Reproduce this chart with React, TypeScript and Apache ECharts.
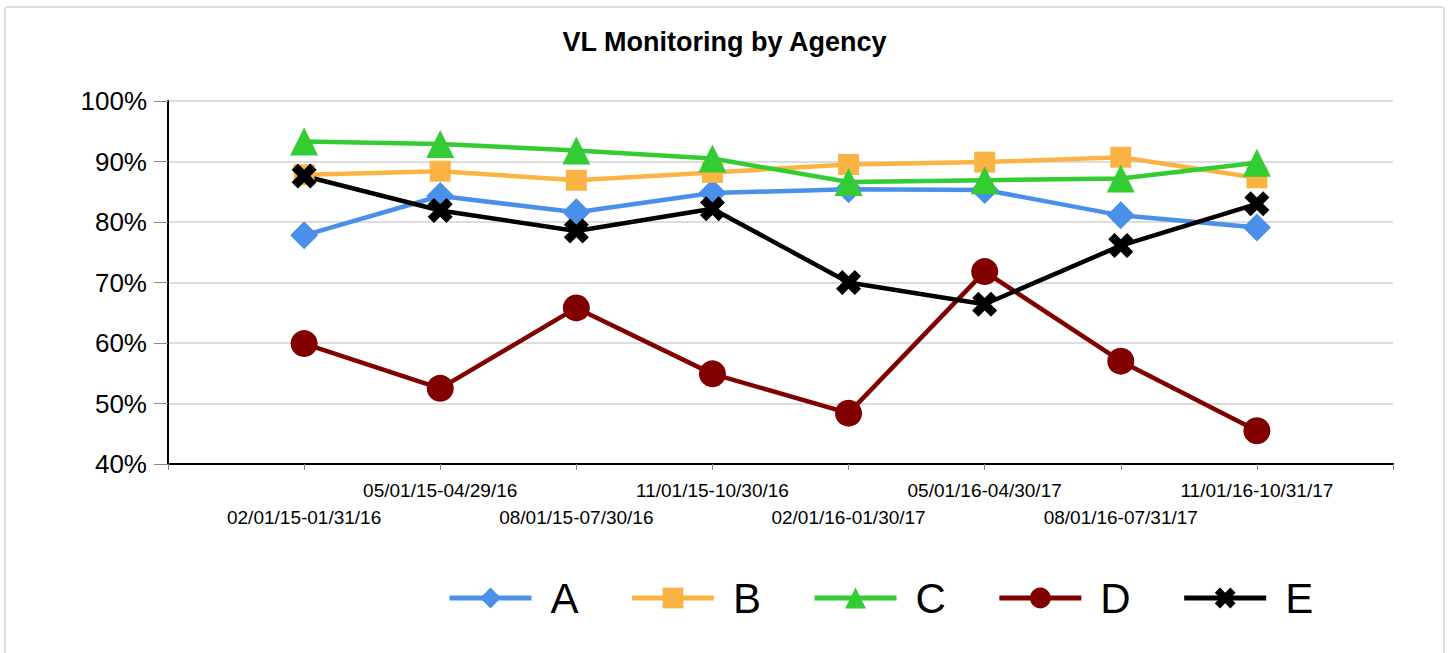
import React, { useEffect, useRef } from "react";
import * as echarts from "echarts";

const categories = [
  "02/01/15-01/31/16",
  "05/01/15-04/29/16",
  "08/01/15-07/30/16",
  "11/01/15-10/30/16",
  "02/01/16-01/30/17",
  "05/01/16-04/30/17",
  "08/01/16-07/31/17",
  "11/01/16-10/31/17",
];

const seriesNames = ["A", "B", "C", "D", "E"];
const valuesA = [77.8, 84.3, 81.6, 84.8, 85.4, 85.3, 81.1, 79.1];
const valuesB = [87.8, 88.4, 86.9, 88.2, 89.5, 89.9, 90.7, 87.3];
const valuesC = [93.3, 92.9, 91.8, 90.5, 86.6, 86.9, 87.2, 89.8];
const valuesD = [59.9, 52.5, 65.8, 54.9, 48.4, 71.8, 57.0, 45.5];
const valuesE = [87.6, 81.9, 78.5, 82.2, 70.0, 66.4, 76.1, 83.0];

const yTicks = [40, 50, 60, 70, 80, 90, 100];

const FONT = "'Liberation Sans', Arial, sans-serif";
const colors = ["#4a8fea", "#fbb444", "#33cc33", "#800000", "#000000"];
const symbols = [
  "diamond",
  "rect",
  "triangle",
  "circle",
  "path://M0,2.5 L2.5,0 L5,2.5 L7.5,0 L10,2.5 L7.5,5 L10,7.5 L7.5,10 L5,7.5 L2.5,10 L0,7.5 L2.5,5 Z",
];
const symbolSizes = [28, 21, 28, 27, 25];

export default function App() {
  const ref = useRef<HTMLDivElement>(null);
  useEffect(() => {
    if (!ref.current) return;
    const chart = echarts.init(ref.current, null, { renderer: "svg" });
    const axisCats = ["", ...categories, ""];
    const all = [valuesA, valuesB, valuesC, valuesD, valuesE];
    const series = seriesNames.map((name, i) => ({
      name,
      type: "line",
      data: [null, ...all[i], null],
      symbol: symbols[i],
      symbolSize: symbolSizes[i],
      showAllSymbol: true,
      connectNulls: false,
      lineStyle: { width: 4.5, color: colors[i] },
      itemStyle: { color: colors[i] },
      emphasis: { disabled: true },
    }));
    chart.setOption({
      animation: false,
      textStyle: { fontFamily: FONT },
      graphic: [
        {
          type: "rect",
          shape: { x: 5, y: 7, width: 1439, height: 700, r: 3 },
          style: { fill: "none", stroke: "#dcdcdc", lineWidth: 2 },
          silent: true,
          z: -10,
        },
      ],
      title: {
        text: "VL Monitoring by Agency",
        left: "center",
        top: 28,
        padding: 0,
        textStyle: { fontFamily: FONT, fontSize: 27, fontWeight: "bold", color: "#000" },
      },
      legend: {
        left: 447,
        top: 576,
        padding: 0,
        itemWidth: 82,
        itemHeight: 26,
        itemGap: 51,
        data: seriesNames,
        lineStyle: { width: 5 },
        textStyle: {
          fontFamily: FONT,
          fontSize: 42,
          color: "#000",
          padding: [0, 0, 0, 14],
          lineHeight: 44,
        },
      },
      grid: {
        left: 168,
        right: 56,
        top: 101,
        bottom: 189,
        containLabel: false,
        outerBoundsMode: "none",
      },
      xAxis: {
        type: "category",
        data: axisCats,
        boundaryGap: false,
        axisLine: { lineStyle: { color: "#000", width: 2 } },
        axisTick: { show: true, length: 6, interval: 0, lineStyle: { color: "#888", width: 1 } },
        axisLabel: {
          interval: 0,
          margin: 13,
          color: "#000",
          fontFamily: FONT,
          fontSize: 19,
          lineHeight: 27,
          formatter: (v: string, i: number) => (i % 2 === 1 ? "\n" + v : v),
        },
        splitLine: { show: false },
      },
      yAxis: {
        type: "value",
        min: yTicks[0],
        max: yTicks[yTicks.length - 1],
        interval: 10,
        axisLine: { show: true, lineStyle: { color: "#000", width: 2 } },
        axisTick: { show: true, length: 14, lineStyle: { color: "#888", width: 1 } },
        axisLabel: {
          margin: 21,
          color: "#000",
          fontFamily: FONT,
          fontSize: 26,
          formatter: "{value}%",
        },
        splitLine: { show: true, lineStyle: { color: "#dddddd", width: 2 } },
      },
      series,
    });
    return () => chart.dispose();
  }, []);
  return (
    <div
      ref={ref}
      style={{ position: "absolute", left: 0, top: 0, width: 1449, height: 653, background: "#fff" }}
    />
  );
}
